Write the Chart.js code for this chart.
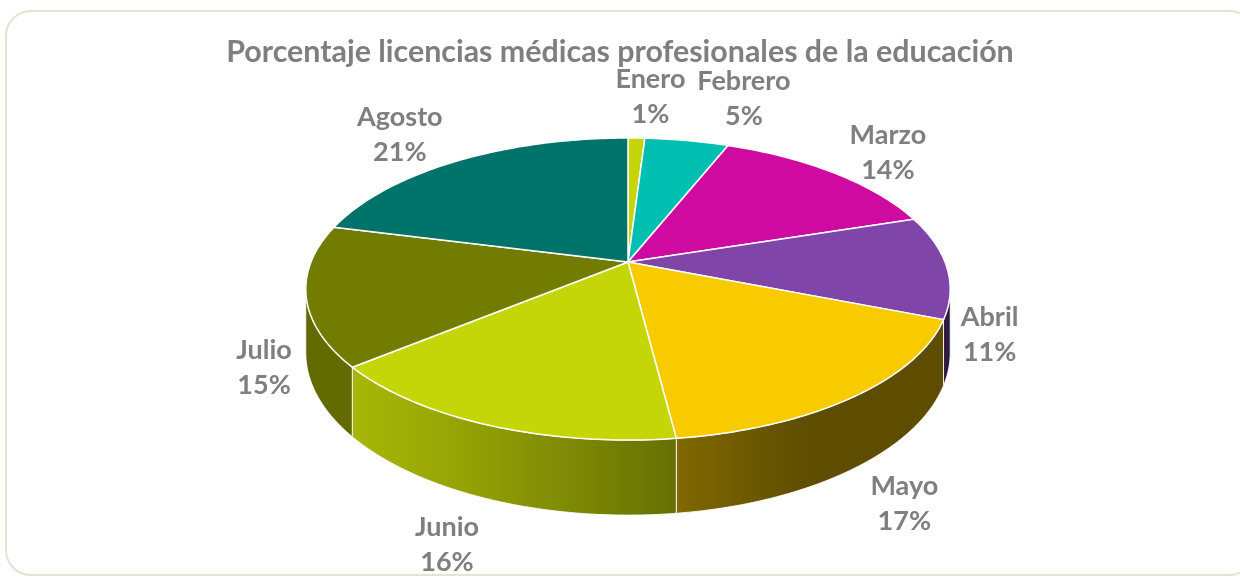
<!DOCTYPE html>
<html>
<head>
<meta charset="utf-8">
<script src="https://cdn.jsdelivr.net/npm/chart.js@4.4.1/dist/chart.umd.min.js"></script>
<style>
  html, body { margin: 0; padding: 0; background: #fff; overflow: hidden; }
  #wrap { position: relative; width: 1240px; height: 578px; }
  #frame {
    position: absolute; left: 5px; top: 10px; width: 1250px; height: 566px;
    border: 2px solid #dfe6d3; border-radius: 26px; box-sizing: border-box;
  }
  canvas { position: absolute; left: 0; top: 0; }
</style>
</head>
<body>
<div id="wrap">
  <div id="frame"></div>
  <canvas id="chart" width="1240" height="578"></canvas>
</div>
<script>
'use strict';

// ─── data ───
const MONTHS = ['Enero', 'Febrero', 'Marzo', 'Abril', 'Mayo', 'Junio', 'Julio', 'Agosto'];
const PERCENTS = [1, 5, 14, 11, 17, 16, 15, 21];
const COLORS = ['#c4d60a', '#00bfb0', '#cf0aa0', '#7f45a8', '#f8ca00', '#c4d607', '#727c00', '#00746a'];

// label nudges (px) from each slice's outer-edge midpoint
const LABEL_OFFSETS = [[14, -41], [57, -42], [54, -20], [43, 68], [50, 107], [-41, 120], [-42, 73], [-58, -26]];

// ─── 3D view (tilted disc with a bit of perspective) ───
const VIEW = { cx: 628, cy: 262, rx: 317, ry: 146.2, persp: 0.179, depth: 61.6 };
const TEXT_GRAY = '#7f7f7f';
const FONT = "Lato, 'Open Sans', sans-serif";

function project(a, r, dz) {
  const u = Math.cos(a) * r, v = Math.sin(a) * r;
  const s = 1 / (1 - VIEW.persp * v);
  return { x: VIEW.cx + VIEW.rx * u * s, y: VIEW.cy + (VIEW.ry * v + VIEW.depth * dz) * s };
}

function hexToRgb(hex) {
  const n = parseInt(hex.slice(1), 16);
  return [(n >> 16) & 255, (n >> 8) & 255, n & 255];
}

// side wall shading: light from the front-left
function shade(hex, a) {
  const c = Math.max(0, Math.cos(a - Math.PI * 150 / 180));
  const f = 0.38 + 0.48 * Math.pow(c, 1.3);
  const [r, g, b] = hexToRgb(hex);
  return `rgb(${Math.round(r * f)},${Math.round(g * f)},${Math.round(b * f)})`;
}

function steps(a0, a1) {
  const n = Math.max(2, Math.ceil(Math.abs(a1 - a0) / (Math.PI / 180)));
  const out = [];
  for (let i = 0; i <= n; i++) out.push(a0 + (a1 - a0) * i / n);
  return out;
}

const pie3d = {
  id: 'pie3d',
  beforeDatasetsDraw(chart) {
    const ctx = chart.ctx;
    const meta = chart.getDatasetMeta(0);
    const arcs = meta.data.map(el => el.getProps(['startAngle', 'endAngle'], true));
    const colors = chart.data.datasets[0].backgroundColor;

    // visible part of the rim (between the two silhouettes)
    const lo = Math.asin(VIEW.persp), hi = Math.PI - lo;

    ctx.save();
    ctx.lineJoin = 'round';

    // walls
    arcs.forEach((arc, i) => {
      const a0 = Math.max(arc.startAngle, lo), a1 = Math.min(arc.endAngle, hi);
      if (a1 <= a0) return;
      const angs = steps(a0, a1);
      const top = angs.map(a => project(a, 1, 0));
      const bot = angs.map(a => project(a, 1, 1));
      const xs = top[0].x, xe = top[top.length - 1].x;
      const grad = ctx.createLinearGradient(xs, 0, xe === xs ? xs + 1 : xe, 0);
      const k = Math.max(1, Math.floor(angs.length / 8));
      for (let j = 0; j < angs.length; j += k) {
        const t = xe === xs ? 0 : (top[j].x - xs) / (xe - xs);
        grad.addColorStop(Math.min(1, Math.max(0, t)), shade(colors[i], angs[j]));
      }
      grad.addColorStop(1, shade(colors[i], a1));
      ctx.beginPath();
      top.forEach((p, j) => (j ? ctx.lineTo(p.x, p.y) : ctx.moveTo(p.x, p.y)));
      for (let j = bot.length - 1; j >= 0; j--) ctx.lineTo(bot[j].x, bot[j].y);
      ctx.closePath();
      ctx.fillStyle = grad;
      ctx.fill();
      ctx.strokeStyle = 'rgba(255,255,255,0.85)';
      ctx.lineWidth = 1;
      ctx.stroke();
    });

    // top faces
    arcs.forEach((arc, i) => {
      const c = project(0, 0, 0);
      ctx.beginPath();
      ctx.moveTo(c.x, c.y);
      steps(arc.startAngle, arc.endAngle).forEach(a => {
        const p = project(a, 1, 0);
        ctx.lineTo(p.x, p.y);
      });
      ctx.closePath();
      ctx.fillStyle = colors[i];
      ctx.fill();
      ctx.strokeStyle = '#ffffff';
      ctx.lineWidth = 1.5;
      ctx.stroke();
    });

    // labels
    ctx.fillStyle = TEXT_GRAY;
    ctx.font = `bold 27px ${FONT}`;
    ctx.textAlign = 'center';
    ctx.textBaseline = 'middle';
    arcs.forEach((arc, i) => {
      const p = project((arc.startAngle + arc.endAngle) / 2, 1, 0);
      const x = p.x + LABEL_OFFSETS[i][0], y = p.y + LABEL_OFFSETS[i][1];
      ctx.fillText(chart.data.labels[i], x, y - 17.5);
      ctx.fillText(`${chart.data.datasets[0].data[i]}%`, x, y + 17.5);
    });

    ctx.restore();
    return false;
  },
};

new Chart(document.getElementById('chart'), {
  type: 'pie',
  data: {
    labels: MONTHS,
    datasets: [{
      data: PERCENTS,
      backgroundColor: COLORS,
      borderColor: '#ffffff',
    }],
  },
  options: {
    responsive: false,
    animation: false,
    events: [],
    layout: { padding: { top: 0 } },
    plugins: {
      legend: { display: false },
      tooltip: { enabled: false },
      title: {
        display: true,
        text: 'Porcentaje licencias médicas profesionales de la educación',
        color: TEXT_GRAY,
        font: { family: FONT, size: 30.4, weight: 'bold' },
        padding: { top: 33.5, bottom: 10 },
      },
    },
  },
  plugins: [pie3d],
});
</script>
</body>
</html>
